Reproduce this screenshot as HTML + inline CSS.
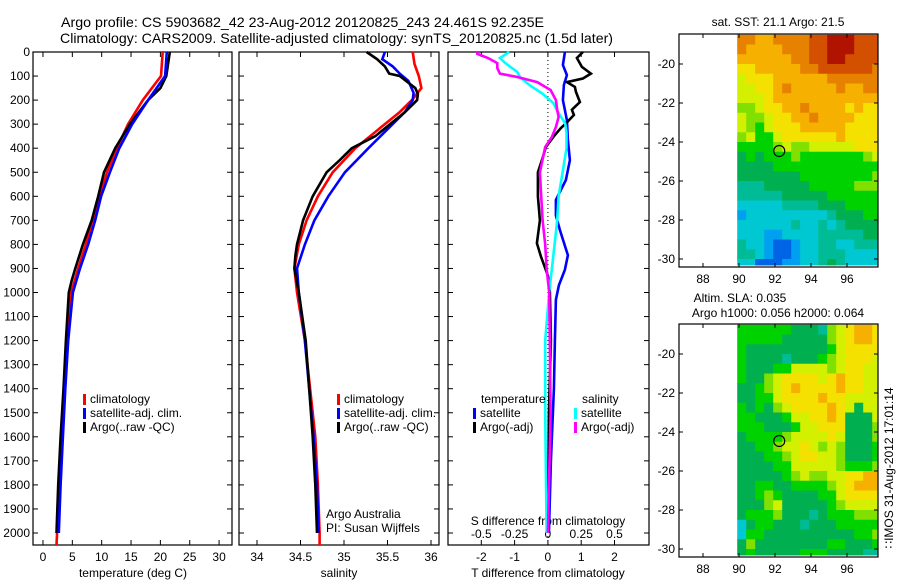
<!DOCTYPE html>
<html><head><meta charset="utf-8">
<style>
html,body{margin:0;padding:0;background:#fff;}
svg{display:block;font-family:"Liberation Sans",sans-serif;font-size:12px;}
</style></head>
<body>
<svg id="fig" width="900" height="580" viewBox="0 0 900 580">
<text x="61" y="27" font-size="14" textLength="483" lengthAdjust="spacingAndGlyphs">Argo profile: CS 5903682_42 23-Aug-2012 20120825_243 24.461S 92.235E</text>
<text x="60" y="43" font-size="14" textLength="553" lengthAdjust="spacingAndGlyphs">Climatology: CARS2009. Satellite-adjusted climatology: synTS_20120825.nc (1.5d later)</text>
<g id="g"></g>
</svg>
<script>
// ---------- data ----------
const depthTicks=[0,100,200,300,400,500,600,700,800,900,1000,1100,1200,1300,1400,1500,1600,1700,1800,1900,2000];
// temperature
const tClimDepth=[0,100,200,300,400,500,600,700,800,900,1000,1200,1400,1600,1800,2000,2050];
const tClim=[20.4,20.1,17.0,14.5,12.6,10.9,9.7,8.5,7.3,6.0,4.8,4.1,3.6,3.3,2.9,2.4,2.3];
const tSatDepth=[0,100,200,300,400,500,600,700,800,900,1000,1200,1400,1600,1800,2000];
const tSat=[21.1,20.8,17.9,15.2,13.0,11.4,9.9,8.9,7.7,6.3,5.1,4.3,3.8,3.4,3.0,2.7];
const tArgoDepth=[0,100,150,200,300,400,500,600,700,800,900,950,1000,1200,1400,1600,1800,2000];
const tArgo=[21.6,21.0,20.0,17.9,14.8,12.3,10.4,9.4,8.3,6.8,5.5,4.9,4.4,3.9,3.5,3.0,2.6,2.3];
// salinity
const sClimDepth=[0,50,100,150,200,250,300,350,400,500,600,700,800,900,1000,1200,1400,1600,1800,2000,2050];
const sClim=[35.79,35.81,35.86,35.89,35.78,35.64,35.47,35.30,35.13,34.87,34.70,34.57,34.48,34.43,34.46,34.55,34.61,34.67,34.70,34.72,34.72];
const sSatDepth=[0,30,60,90,120,170,200,250,300,400,500,600,700,800,900,1000,1200,1400,1600,1800,2000];
const sSat=[35.47,35.44,35.56,35.64,35.74,35.80,35.79,35.70,35.56,35.28,35.01,34.82,34.66,34.55,34.46,34.48,34.55,34.60,34.65,34.69,34.71];
const sArgoDepth=[0,30,60,90,100,150,175,200,250,300,350,400,450,500,600,700,800,850,900,1000,1200,1400,1600,1800,2000];
const sArgo=[35.26,35.38,35.47,35.52,35.64,35.82,35.85,35.84,35.70,35.53,35.36,35.09,34.95,34.80,34.64,34.53,34.46,34.44,34.43,34.48,34.56,34.60,34.64,34.67,34.69];
// differences
const dTArgoDepth=[0,25,62,90,110,125,145,165,208,240,262,297,316,350,395,450,500,600,700,795,850,930,1000,1200,1500,2000];
const dTArgo=[1.05,0.87,1.02,1.29,1.05,0.57,0.81,0.84,0.96,0.72,0.78,0.54,0.39,0.18,-0.06,-0.18,-0.3,-0.3,-0.24,-0.33,-0.21,0,0.06,0.09,0.03,0];
const dTSatDepth=[0,54,96,137,200,283,366,450,532,615,680,740,845,905,970,1030,1200,1400,1700,2000];
const dTSat=[0.51,0.45,0.57,0.48,0.45,0.57,0.6,0.66,0.54,0.24,0.24,0.36,0.6,0.51,0.33,0.24,0.21,0.18,0.09,0.03];
const dSArgoDepth=[0,8,25,46,67,90,104,125,158,200,241,270,312,353,395,500,600,700,800,900,1000,1500,2000];
const dSArgo=[-0.53,-0.53,-0.45,-0.38,-0.38,-0.36,-0.23,-0.08,0.02,0.06,0.07,0.08,0.06,0.03,-0.02,-0.06,-0.05,-0.04,-0.02,-0.01,0.01,0.02,0];
const dSSatDepth=[0,25,46,83,104,137,174,212,254,297,337,400,500,600,700,800,900,1000,1200,1500,2000];
const dSSat=[-0.29,-0.36,-0.32,-0.23,-0.21,-0.14,-0.04,0.04,0.08,0.13,0.14,0.14,0.11,0.08,0.07,0.05,0.03,0.01,-0.02,-0.02,-0.01];
const tTicks=[0,5,10,15,20,25,30];
const sTicks=[34,34.5,35,35.5,36];
const sTickLabels=["34","34.5","35","35.5","36"];
const dTTicks=[-2,-1,0,1,2];
const dSTicks=[-0.5,-0.25,0,0.25,0.5];
const dSTickLabels=["-0.5","-0.25","0","0.25","0.5"];
// maps: 0.5 degree cells, lon from 89.9 eastward, lat from 18.5S southward
const mapLon0=89.9, mapLat0=18.5, mapCell=0.5;
const sstGrid=[
"aa99aaaabbcccbbb","a9999aaabbcccbbb","999999aabbccbbbb","8899999aabbbbbba",
"7888999999aaaaaa","77889a99999a99aa","7778999999999999","6678899a99998988",
"76678899a9999888","7657888999998888","6755788888898888","5555676677777888",
"4545556555555567","4444555555555555","4444444555555556","3334444455555666",
"3333344444555555","2222233334445555","1222222222344455","2222223223234444",
"2221122223333344","3221001223322333","3321001223332222","2200011223432222"];
const slaGrid=[
"5555554443678998","5555544444678998","5444444444578888","5444434445678887",
"5444557777678877","5446788887898877","4456789888898877","4455788889887777",
"5454678888987477","5544457788984447","5554445778884446","4555567777874446",
"4455677876764445","4445567887764445","4444557777765556","4444456766778899",
"4455445555678999","4456544445578888","4446744444567777","4555644434555666",
"2455444344455555","2554444444444556","4644444444554445","4544444555444433"];
const sstTicksLat=[20,22,24,26,28,30];
const lonTicks=[88,90,92,94,96];
const floatLon=92.235, floatLat=24.461;

// ---------- drawing ----------
const NS="http://www.w3.org/2000/svg";
const G=document.getElementById('g');
function el(tag,attrs,parent){const e=document.createElementNS(NS,tag);for(const k in attrs)e.setAttribute(k,attrs[k]);(parent||G).appendChild(e);return e;}
const Y0=52, YS=0.2405;
function yD(d){return Y0+d*YS;}
const BOT=545;
const panels=[
 {x0:33,x1:232,v0:-1.7,v1:32.2},
 {x0:239,x1:439,v0:33.793,v1:36.092},
 {x0:448,x1:649,v0:-3.0,v1:3.036}
];
function xf(p,v){return p.x0+(v-p.v0)/(p.v1-p.v0)*(p.x1-p.x0);}
function line(p,depths,vals,color,name,scale){
  let pts=depths.map((d,i)=>xf(p,vals[i]*(scale||1)).toFixed(1)+','+yD(d).toFixed(1)).join(' ');
  const e=el('polyline',{points:pts,fill:'none',stroke:color,'stroke-width':2.6,'stroke-linejoin':'miter'});
  
  
}
function text(x,y,s,anchor,name,extra){
  const t=el('text',Object.assign({x:x,y:y,'text-anchor':anchor||'start'},extra||{}));
  t.textContent=s;
  
  
  return t;
}
panels.forEach((p,i)=>{
  const r=el('rect',{x:p.x0,y:Y0,width:p.x1-p.x0,height:BOT-Y0,fill:'none',stroke:'#000','stroke-width':1.2});
  
  
  depthTicks.forEach(d=>{
    el('line',{x1:p.x0,x2:p.x0+5,y1:yD(d),y2:yD(d),stroke:'#000'});
    el('line',{x1:p.x1,x2:p.x1-5,y1:yD(d),y2:yD(d),stroke:'#000'});
    if(i===0) text(30,yD(d)+4,String(d),'end','depth-tick-label');
  });
});
// panel 1
const P1=panels[0];
tTicks.forEach(v=>{const x=xf(P1,v);el('line',{x1:x,x2:x,y1:BOT,y2:BOT-5,stroke:'#000'});el('line',{x1:x,x2:x,y1:Y0,y2:Y0+5,stroke:'#000'});text(x,561,String(v),'middle','temperature-tick-label');});
text(133,577,'temperature (deg C)','middle','x-axis-title-temperature');
line(P1,tClimDepth,tClim,'#ff0000','temperature-climatology-line');
line(P1,tArgoDepth,tArgo,'#000000','temperature-argo-line');
line(P1,tSatDepth,tSat,'#0000ff','temperature-satellite-line');
// panel 2
const P2=panels[1];
sTicks.forEach((v,i)=>{const x=xf(P2,v);el('line',{x1:x,x2:x,y1:BOT,y2:BOT-5,stroke:'#000'});el('line',{x1:x,x2:x,y1:Y0,y2:Y0+5,stroke:'#000'});text(x,561,sTickLabels[i],'middle','salinity-tick-label');});
text(339,577,'salinity','middle','x-axis-title-salinity');
line(P2,sClimDepth,sClim,'#ff0000','salinity-climatology-line');
line(P2,sSatDepth,sSat,'#0000ff','salinity-satellite-line');
line(P2,sArgoDepth,sArgo,'#000000','salinity-argo-line');
// panel 3
const P3=panels[2];
const zx=xf(P3,0);
el('line',{x1:zx,x2:zx,y1:Y0,y2:BOT,stroke:'#000','stroke-dasharray':'1,3'});
dTTicks.forEach(v=>{const x=xf(P3,v);el('line',{x1:x,x2:x,y1:BOT,y2:BOT-5,stroke:'#000'});el('line',{x1:x,x2:x,y1:Y0,y2:Y0+5,stroke:'#000'});text(x,561,String(v),'middle','t-diff-tick-label');});
dSTicks.forEach((v,i)=>{text(xf(P3,v*4),538,dSTickLabels[i],'middle','s-diff-tick-label');});
text(548,525,'S difference from climatology','middle','s-diff-axis-title');
text(548,577,'T difference from climatology','middle','x-axis-title-t-diff');
line(P3,dTSatDepth,dTSat,'#0000ff','t-diff-satellite-line');
line(P3,dTArgoDepth,dTArgo,'#000000','t-diff-argo-line');
line(P3,dSSatDepth,dSSat,'#00ffff','s-diff-satellite-line',4);
line(P3,dSArgoDepth,dSArgo,'#ff00ff','s-diff-argo-line',4);
// legends
function leg(x,y,color,label,name){
  const m=el('rect',{x:x,y:y-9,width:3,height:11,fill:color});
  
  
  text(x+7,y,label,'start',name);
}
leg(83,403,'#ff0000','climatology','legend-climatology');
leg(83,417,'#0000ff','satellite-adj. clim.','legend-satellite');
leg(83,431,'#000000','Argo(..raw -QC)','legend-argo');
leg(337,403,'#ff0000','climatology','legend2-climatology');
leg(337,417,'#0000ff','satellite-adj. clim.','legend2-satellite');
leg(337,431,'#000000','Argo(..raw -QC)','legend2-argo');
text(481,403,'temperature','start','legend-temperature-heading');
leg(473,417,'#0000ff','satellite','legend-t-satellite');
leg(473,431,'#000000','Argo(-adj)','legend-t-argo');
text(582,403,'salinity','start','legend-salinity-heading');
leg(574,417,'#00ffff','satellite','legend-s-satellite');
leg(574,431,'#ff00ff','Argo(-adj)','legend-s-argo');
text(326,518,'Argo Australia','start','credit-argo-australia');
text(326,532,'PI: Susan Wijffels','start','credit-pi');

// maps
const pal={'0':'#0064e6','1':'#00a0f0','2':'#00c8d2','3':'#00bc96','4':'#00b050','5':'#00d200','6':'#82e000','7':'#d2f000','8':'#f5e100','9':'#f5b000','a':'#e68200','b':'#d25000','c':'#b01400'};
function drawMap(top,grid,name){
  const L=679,R=878,B=top+233;
  const lonX=lon=>703+(lon-88)*18;
  const latY=lat=>top+30+(lat-20)*19.5;
  const g=el('g',{});
  
  
  grid.forEach((row,r)=>{
    for(let c=0;c<row.length;c++){
      const lon=mapLon0+c*mapCell, lat=mapLat0+r*mapCell;
      const x=lonX(lon), y=Math.max(top,latY(lat));
      const x2=Math.min(R,lonX(lon+mapCell)), y2=Math.min(B-2,latY(lat+mapCell));
      el('rect',{x:x,y:y,width:x2-x+0.5,height:y2-y+0.5,fill:pal[row[c]]},g);
    }
  });
  const fr=el('rect',{x:L,y:top,width:R-L,height:B-top,fill:'none',stroke:'#000','stroke-width':1.2});
  
  
  sstTicksLat.forEach(v=>{const y=latY(v);el('line',{x1:L,x2:L+4,y1:y,y2:y,stroke:'#000'});el('line',{x1:R,x2:R-4,y1:y,y2:y,stroke:'#000'});text(L-4,y+4,'-'+v,'end',name+'-lat-label');});
  lonTicks.forEach(v=>{const x=lonX(v);el('line',{x1:x,x2:x,y1:B,y2:B-4,stroke:'#000'});el('line',{x1:x,x2:x,y1:top,y2:top+4,stroke:'#000'});text(x,B+16,String(v),'middle',name+'-lon-label');});
  const c=el('circle',{cx:lonX(floatLon),cy:latY(floatLat),r:5.5,fill:'none',stroke:'#000','stroke-width':1.2});
  
  
}
drawMap(34,sstGrid,'sst-map');
text(778,26,'sat. SST: 21.1  Argo: 21.5','middle','sst-map-title');
drawMap(324,slaGrid,'sla-map');
text(740,302,'Altim. SLA: 0.035','middle','sla-map-title-1');
text(778,317,'Argo h1000: 0.056 h2000: 0.064','middle','sla-map-title-2');
text(0,0,'\u2237IMOS 31-Aug-2012 17:01:14','middle','timestamp',{transform:'translate(893,468) rotate(-90)'});
</script>
</body></html>
